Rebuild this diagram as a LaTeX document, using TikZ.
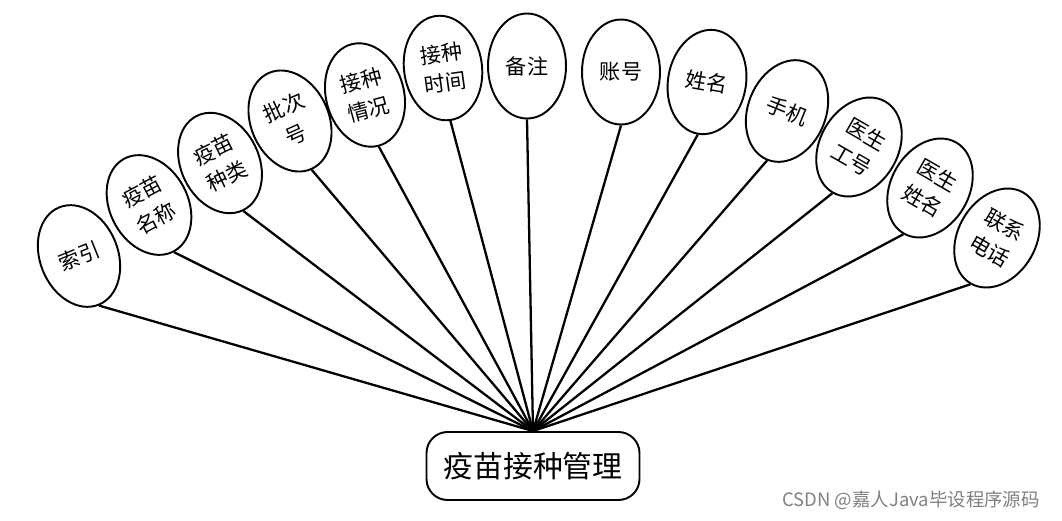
\documentclass[tikz,border=0pt]{standalone}
\usepackage{fontspec}
\setmainfont{Noto Sans CJK SC}
\usetikzlibrary{shapes.geometric}

\begin{document}
\begin{tikzpicture}[x=0.2mm, y=-0.2mm,
    attr/.style={ellipse, draw, line width=1.1pt, minimum width=15.6mm, minimum height=21mm, inner sep=0pt, align=center, font=\fontsize{12}{17}\selectfont},
    entity/.style={rectangle, rounded corners=12pt, draw, line width=1.1pt, minimum width=42.6mm, minimum height=13.6mm, font=\fontsize{17}{20}\selectfont},
    link/.style={line width=1.3pt}
]
\useasboundingbox (0,0) rectangle (1062,520);

% Central entity
\node[entity] (mgmt) at (533,466) {疫苗接种管理};

% Attribute ellipses along the fan
\node[attr, rotate=22] (idx) at (79,256) {索引};
\node[attr, rotate=28] (vname) at (149,205) {疫苗\\名称};
\node[attr, rotate=26] (vtype) at (220,163) {疫苗\\种类};
\node[attr, rotate=24] (batch) at (290,121) {批次\\号};
\node[attr, rotate=15] (state) at (365,95) {接种\\情况};
\node[attr, rotate=8] (vtime) at (443,68) {接种\\时间};
\node[attr] (note) at (527,66) {备注};
\node[attr] (acct) at (621,72) {账号};
\node[attr, rotate=-10] (uname) at (707,82) {姓名};
\node[attr, rotate=-22] (phone) at (787,111) {手机};
\node[attr, rotate=-30] (docid) at (859,147) {医生\\工号};
\node[attr, rotate=-30] (docname) at (930,188) {医生\\姓名};
\node[attr, rotate=-30] (tel) at (997,238) {联系\\电话};

% Connectors to the entity
\draw[link] (mgmt.north) -- (idx.south);
\draw[link] (mgmt.north) -- (vname.south);
\draw[link] (mgmt.north) -- (vtype.south);
\draw[link] (mgmt.north) -- (batch.south);
\draw[link] (mgmt.north) -- (state.south);
\draw[link] (mgmt.north) -- (vtime.south);
\draw[link] (mgmt.north) -- (note.south);
\draw[link] (mgmt.north) -- (acct.south);
\draw[link] (mgmt.north) -- (uname.south);
\draw[link] (mgmt.north) -- (phone.south);
\draw[link] (mgmt.north) -- (docid.south);
\draw[link] (mgmt.north) -- (docname.south);
\draw[link] (mgmt.north) -- (tel.south);

% Watermark
\node[anchor=east, text=gray, font=\fontsize{10.5}{12}\selectfont] (mark) at (1046,500) {CSDN @嘉人Java毕设程序源码};

\end{tikzpicture}
\end{document}
